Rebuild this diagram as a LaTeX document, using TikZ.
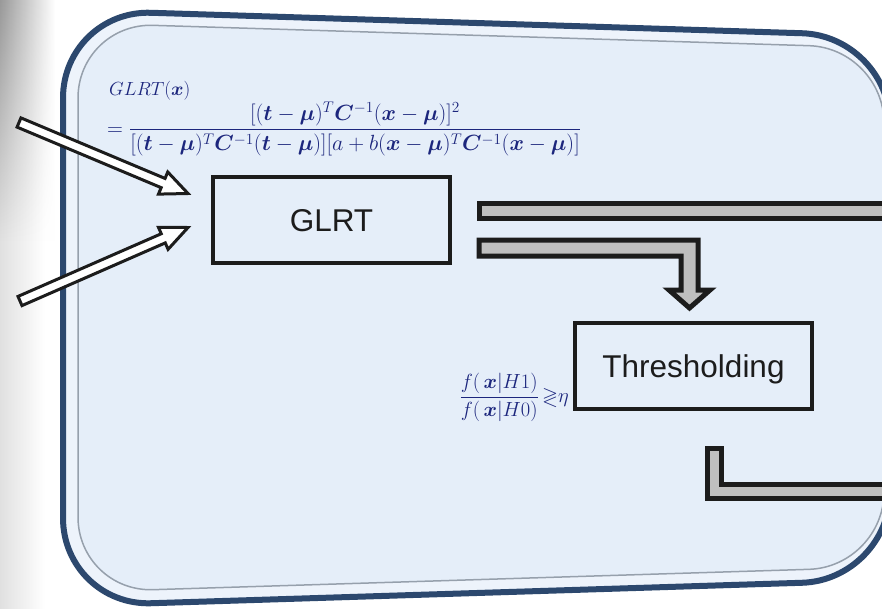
\RequirePackage{fix-cm}
\documentclass[tikz,border=0pt]{standalone}
\usepackage{amsmath,amssymb,bm}
\usepackage{fontspec}
\newfontfamily\arialfont{Liberation Sans}
\usetikzlibrary{calc,fadings}

\definecolor{rimblue}{RGB}{44,72,110}
\definecolor{panelout}{RGB}{237,243,251}
\definecolor{panelin}{RGB}{229,238,249}
\definecolor{innerline}{RGB}{150,160,172}
\definecolor{mathblue}{RGB}{28,38,125}
\definecolor{barfill}{RGB}{191,191,191}
\definecolor{inkblack}{RGB}{28,28,28}

\tikzset{
  blockbox/.style={draw=inkblack, line width=4pt, fill=panelin, minimum width=237pt,
    minimum height=86pt, inner sep=0pt, outer sep=0pt, text depth=0pt,
    font=\arialfont\fontsize{31.5}{36}\selectfont, text=inkblack},
  formula/.style={text=mathblue, inner sep=0pt, font=\fontsize{22}{26}\selectfont},
  feed/.style={fill=white, draw=inkblack, line width=3pt},
  bar/.style={fill=barfill, draw=inkblack, line width=5pt},
}

% white block arrow from #1 to #2
\newcommand{\drawfeed}[2]{%
  \coordinate (#1h) at ($(#2)!27pt!(#1)$);
  \draw[feed] ($(#1)!5pt!90:(#2)$) -- ($(#1h)!5pt!-90:(#1)$) -- ($(#1h)!12pt!-90:(#1)$)
    -- (#2) -- ($(#1h)!12pt!90:(#1)$) -- ($(#1h)!5pt!90:(#1)$)
    -- ($(#1)!5pt!-90:(#2)$) -- cycle;}

\begin{document}
\begin{tikzpicture}[x=1pt,y=-1pt]
  \useasboundingbox (0,0) rectangle (882,608);
  \clip (0,0) rectangle (882,608);
  \fill[white] (0,0) rectangle (882,608);

  % shadow on the left
  \shade[left color=black!12, right color=white] (0,0) rectangle (45,608);
  \shade[left color=black!40, right color=white, path fading=south] (0,0) rectangle (55,240);

  % panel
  \draw[line width=6pt, draw=rimblue, fill=panelout]
    (63,300) [rounded corners=88pt] -- (63,10) -- (890,36) -- (890,580) -- (63,606) -- cycle;
  \draw[line width=1.5pt, draw=innerline, fill=panelin]
    (78,300) [rounded corners=75pt] -- (78,23) -- (884,48) -- (884,567) -- (78,592) -- cycle;

  % blocks
  \node[blockbox] (glrt) at (331.5,220) {GLRT};
  \node[blockbox] (thr) at (693.5,366) {Thresholding};

  % formulas
  \node[formula, anchor=base west, font=\fontsize{19}{22}\selectfont] (glrtx) at (109,95)
    {$GLRT(\bm{x})$};
  \node[formula, anchor=west] (ratio) at (107,129)
    {$=\dfrac{[(\bm{t}-\bm{\mu})^{T}\bm{C}^{-1}(\bm{x}-\bm{\mu})]^{2}}{[(\bm{t}-\bm{\mu})^{T}\bm{C}^{-1}(\bm{t}-\bm{\mu})][a+b(\bm{x}-\bm{\mu})^{T}\bm{C}^{-1}(\bm{x}-\bm{\mu})]}$};
  \node[formula, anchor=east, font=\fontsize{20.5}{24}\selectfont] (lrt) at (569,397)
    {$\dfrac{f(\,\bm{x}|H1)}{f(\,\bm{x}|H0)}\,{\gtrless}\eta$};

  % inputs
  \coordinate (src1) at (19,122.5);
  \coordinate (src2) at (20,301);
  \coordinate (tip1) at ($(glrt.west)+(-25,-26.5)$);
  \coordinate (tip2) at ($(glrt.west)+(-25,7.5)$);
  \drawfeed{src1}{tip1}
  \drawfeed{src2}{tip2}

  % outputs
  \draw[bar] ($(glrt.east)+(29,-17)$) -- ++(430,0) -- ++(0,15) -- ++(-430,0) -- cycle;
  \draw[bar] ($(glrt.east)+(29,20)$) -- ++(219,0) -- ++(0,50) -- ++(12,0) -- ++(-20.5,18)
    -- ++(-20.5,-18) -- ++(12,0) -- ++(0,-34) -- ++(-202,0) -- cycle;
  \draw[bar] ($(thr.south)+(13.5,39)$) -- ++(14,0) -- ++(0,36) -- ++(180,0) -- ++(0,14)
    -- ++(-194,0) -- cycle;
\end{tikzpicture}
\end{document}
